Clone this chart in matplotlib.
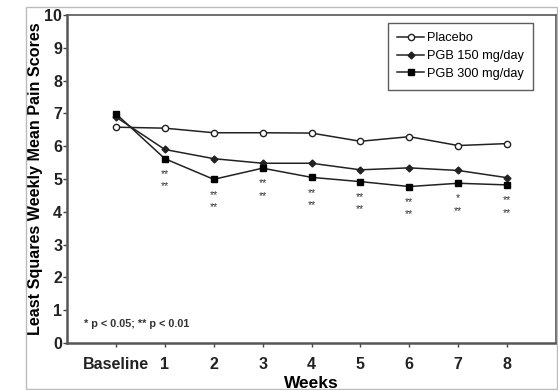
import matplotlib.pyplot as plt
from matplotlib.patches import Rectangle

plt.rcParams['font.family'] = ['Liberation Sans', 'DejaVu Sans']

# Weekly least squares mean pain scores
weeks = ['Baseline', '1', '2', '3', '4', '5', '6', '7', '8']
placebo = [6.58, 6.55, 6.41, 6.41, 6.40, 6.15, 6.29, 6.02, 6.08]
pgb150 = [6.89, 5.90, 5.62, 5.48, 5.48, 5.28, 5.34, 5.26, 5.04]
pgb300 = [6.99, 5.62, 4.99, 5.33, 5.05, 4.92, 4.77, 4.87, 4.82]
# significance marks vs placebo (from week 1 onwards)
sig150 = ['', '**', '**', '**', '**', '**', '**', '*', '**']
sig300 = ['', '**', '**', '**', '**', '**', '**', '**', '**']

line_col = '#222222'

fig = plt.figure(figsize=(5.58, 3.9), dpi=100)
# light outer frame around the figure
fig.patches.append(Rectangle((26 / 558, 1 / 390), 531 / 558, 382 / 390, transform=fig.transFigure,
                             fill=False, edgecolor='#bbbbbb', linewidth=1))
ax = fig.add_axes([67 / 558, 47 / 390, 489 / 558, 328 / 390])

x = list(range(len(weeks)))
ax.plot(x, placebo, color=line_col, lw=1.1, marker='o', ms=4.5, mfc='white', mec=line_col, mew=1, label='Placebo')
ax.plot(x, pgb150, color=line_col, lw=1.1, marker='D', ms=3.5, mfc=line_col, mec=line_col, label='PGB 150 mg/day')
ax.plot(x, pgb300, color=line_col, lw=1.1, marker='s', ms=4.3, mfc='black', mec='black', label='PGB 300 mg/day')

# asterisks below the lowest point of each week
for i in x:
    low = min(pgb150[i], pgb300[i])
    if sig150[i]:
        ax.annotate(sig150[i], (i, low), xytext=(0, -11), textcoords='offset points',
                    ha='center', va='center', fontsize=7.5, color='#333333')
    if sig300[i]:
        ax.annotate(sig300[i], (i, low), xytext=(0, -20), textcoords='offset points',
                    ha='center', va='center', fontsize=7.5, color='#333333')

ax.set_xlim(-1, 9)
ax.set_ylim(0, 10)
ax.set_xticks(x)
ax.set_xticklabels(weeks, fontsize=11.5, fontweight='bold', color='#222222')
ax.set_yticks(range(0, 11))
ax.set_yticklabels([str(v) for v in range(0, 11)], fontsize=11.5, fontweight='bold', color='#222222')
ax.tick_params(axis='both', direction='out', length=3, width=1, color='#444444', pad=0.5)
ax.tick_params(axis='x', pad=7)

for side in ['left', 'bottom']:
    ax.spines[side].set_linewidth(1.8)
    ax.spines[side].set_color('#555555')
for side in ['top', 'right']:
    ax.spines[side].set_linewidth(1.2)
    ax.spines[side].set_color('#555555')

ax.set_ylabel('Least Squares Weekly Mean Pain Scores', fontsize=11.6, fontweight='bold', labelpad=1)
ax.set_xlabel('Weeks', fontsize=12.5, fontweight='bold', labelpad=3)

ax.text(-0.65, 0.5, '* p < 0.05; ** p < 0.01', fontsize=7.8, fontweight='bold', color='#333333')

leg = ax.legend(loc='upper right', bbox_to_anchor=(0.953, 0.976), fontsize=9.2, frameon=True, fancybox=False,
                edgecolor='#333333', handlelength=2.1, handletextpad=0.2, borderpad=0.75, labelspacing=0.45,
                borderaxespad=0)
leg.get_frame().set_linewidth(1)

fig.savefig('out.png', dpi=100)
